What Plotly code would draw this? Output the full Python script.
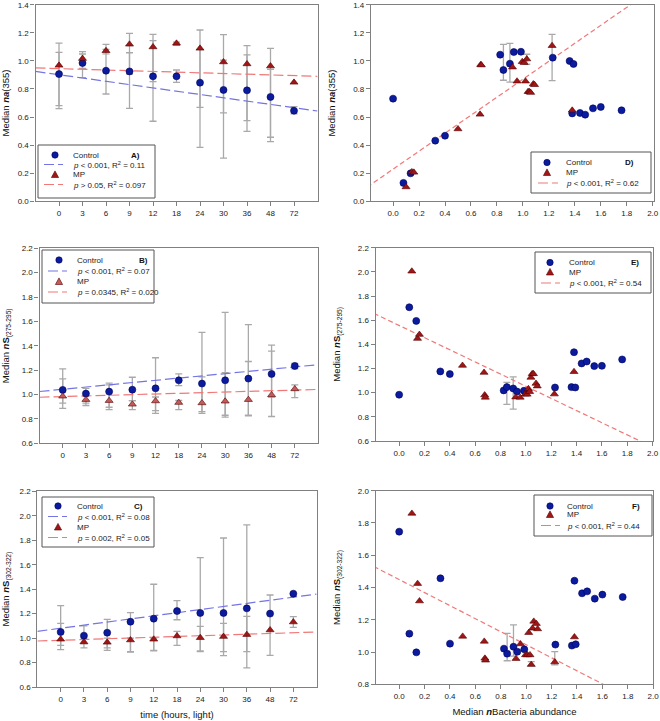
import plotly.graph_objects as go
from plotly.subplots import make_subplots

W, H = 660, 721
FONT = "Arial, 'Liberation Sans', sans-serif"

# ---- time-series panels (A-C) ----
times = ["0", "3", "6", "9", "12", "18", "24", "30", "36", "48", "72"]
tpos = list(range(len(times)))
fit_t = [-1, 11]

a_ctrl = [0.906, 0.985, 0.930, 0.925, 0.890, 0.890, 0.845, 0.793, 0.790, 0.743, 0.645]
a_ctrl_lo = [0.660, 0.880, 0.764, 0.662, 0.570, 0.847, 0.384, 0.308, 0.498, 0.425, 0.622]
a_ctrl_hi = [1.061, 1.049, 1.082, 1.058, 1.144, 0.935, 1.082, 1.006, 1.042, 0.940, 0.674]
a_mp = [0.968, 1.016, 1.072, 1.118, 1.099, 1.125, 1.089, 0.992, 0.978, 0.963, 0.847]
a_mp_lo = [0.681, 0.947, 1.050, 0.906, 0.852, 1.110, 0.669, 0.629, 0.574, 0.456, None]
a_mp_hi = [1.127, 1.066, 1.118, 1.196, 1.189, 1.134, 1.220, 1.187, 1.108, 1.089, None]
a_fit_ctrl = [0.925, 0.643]
a_fit_mp = [0.950, 0.890]

b_ctrl = [1.038, 1.008, 1.024, 1.040, 1.051, 1.117, 1.090, 1.117, 1.131, 1.169, 1.235]
b_ctrl_lo = [0.887, 0.930, 0.896, 0.950, 0.868, 1.074, 0.860, 0.830, 0.830, 0.820, 1.210]
b_ctrl_hi = [1.211, 1.050, 1.093, 1.142, 1.302, 1.170, 1.510, 1.675, 1.573, 1.405, 1.255]
b_mp = [0.986, 0.958, 0.950, 0.920, 0.947, 0.934, 0.931, 0.945, 0.958, 0.997, 1.046]
b_mp_lo = [0.929, 0.910, 0.877, 0.877, 0.846, 0.877, 0.845, 0.815, 0.825, 0.980, 0.975]
b_mp_hi = [1.129, 0.990, 1.080, 0.950, 0.980, 0.951, 1.145, 1.180, 1.271, 1.356, 1.080]
b_fit_ctrl = [1.025, 1.245]
b_fit_mp = [0.978, 1.042]

c_ctrl = [1.050, 1.020, 1.044, 1.134, 1.159, 1.221, 1.205, 1.205, 1.243, 1.200, 1.363]
c_ctrl_lo = [0.905, 0.955, 0.920, 0.890, 0.900, 1.150, 0.895, 0.890, 0.756, 0.858, None]
c_ctrl_hi = [1.265, 1.100, 1.153, 1.208, 1.440, 1.306, 1.658, 1.818, 1.925, 1.352, None]
c_mp = [0.990, 0.968, 0.965, 0.984, 0.990, 1.017, 1.003, 1.012, 1.028, 1.066, 1.131]
c_mp_lo = [0.940, 0.920, 0.900, 0.885, 0.895, 0.940, 0.890, 0.856, 0.890, None, 1.088]
c_mp_hi = [1.120, 1.000, 1.000, 1.000, 1.000, 1.055, 1.096, 1.120, 1.178, None, 1.175]
c_fit_ctrl = [1.055, 1.360]
c_fit_mp = [0.976, 1.050]

# ---- bacteria-abundance panels (D-F) ----
ctrl_bact = [0.0, 0.08, 0.135, 0.325, 0.40, 0.825, 0.85, 0.90, 0.93, 0.985,
             1.23, 1.36, 1.38, 1.39, 1.44, 1.48, 1.54, 1.60, 1.76]
mp_bact = [0.10, 0.145, 0.16, 0.50, 0.67, 0.675, 0.68, 0.92, 0.955, 0.995,
           1.01, 1.02, 1.03, 1.04, 1.05, 1.06, 1.08, 1.09, 1.225, 1.38]

d_ctrl = [0.731, 0.131, 0.199, 0.432, 0.467, 1.044, 0.935, 0.980, 1.063, 1.065,
          1.023, 0.999, 0.626, 0.978, 0.629, 0.617, 0.662, 0.672, 0.648]
d_mp = [0.102, 0.209, 0.206, 0.515, 0.619, 0.973, 0.970, 0.955, 0.855, 0.994,
        0.987, 0.855, 1.013, 0.781, 0.781, 0.774, 0.835, 0.830, 1.108, 0.648]
e_ctrl = [0.983, 1.707, 1.594, 1.176, 1.154, 1.019, 1.046, 1.035, 1.010, 1.016,
          1.043, 1.046, 1.335, 1.043, 1.242, 1.258, 1.220, 1.222, 1.275]
e_mp = [2.005, 1.448, 1.481, 1.225, 1.167, 0.980, 0.961, 0.963, 0.961, 0.986,
        0.986, 1.032, 1.008, 1.126, 1.156, 1.156, 1.076, 1.054, 0.988, 1.173]
f_ctrl = [1.746, 1.114, 0.998, 1.457, 1.052, 1.021, 0.990, 1.033, 1.002, 1.017,
          1.046, 1.040, 1.442, 1.048, 1.364, 1.376, 1.331, 1.356, 1.341]
f_mp = [1.859, 1.424, 1.316, 1.097, 1.066, 0.961, 0.949, 0.959, 1.050, 0.982,
        0.982, 1.120, 0.982, 0.922, 1.147, 1.190, 1.176, 1.143, 0.938, 1.093]

d_bar_x, d_bar_lo, d_bar_hi = [0.85, 0.90, 1.03, 1.225], [0.862, 0.848, 0.976, 0.859], [1.118, 1.125, 1.047, 1.189]
e_bar_x, e_bar_lo, e_bar_hi = [0.85, 0.90], [0.903, 0.864], [1.085, 1.131]
f_bar_x, f_bar_lo, f_bar_hi = [0.85, 0.90, 1.04, 1.225], [0.946, 0.975, 0.915, 0.920], [1.116, 1.168, 0.940, 1.002]

fit_b = [-0.2, 2.02]
d_fit = [0.101, 1.522]
e_fit = [1.657, 0.540]
f_fit = [1.530, 0.633]

BLUE = "#0b1b9e"
RED = "#a01616"
RED_LIGHT = "#c45a5a"
LINE_BLUE = "#7474e4"
LINE_RED = "#f07878"
BAR = "#a9a9a9"
AXIS = "#808080"


def X(px):
    return px / W


def Y(py):
    return 1 - py / H


def add_bars(fig, x, lo, hi, row, col):
    keep = [i for i in range(len(x)) if lo[i] is not None]
    fig.add_trace(
        go.Scatter(
            x=[x[i] for i in keep],
            y=[lo[i] for i in keep],
            mode="markers",
            marker={"size": 1, "color": "rgba(0,0,0,0)"},
            error_y={
                "type": "data",
                "symmetric": False,
                "array": [hi[i] - lo[i] for i in keep],
                "arrayminus": [0] * len(keep),
                "color": BAR,
                "thickness": 1.3,
                "width": 3.5,
            },
            hoverinfo="skip",
        ),
        row=row,
        col=col,
    )


def add_points(fig, x, y, kind, row, col, fill=RED):
    if kind == "circle":
        marker = {"symbol": "circle", "size": 7, "color": BLUE, "line": {"color": "#00005a", "width": 0.6}}
    else:
        marker = {"symbol": "triangle-up", "size": 7, "color": fill, "line": {"color": "#550000", "width": 0.6}}
    fig.add_trace(go.Scatter(x=x, y=y, mode="markers", marker=marker), row=row, col=col)


def add_fit(fig, x, y, color, dash, row, col):
    fig.add_trace(
        go.Scatter(x=x, y=y, mode="lines", line={"color": color, "width": 1.2, "dash": dash}, hoverinfo="skip"),
        row=row,
        col=col,
    )


def add_key(fig, box, rows, sym_x, line_span, text_x, tag, tag_x):
    x0, y0, x1, y1 = box
    fig.add_shape(type="rect", xref="paper", yref="paper", x0=X(x0), x1=X(x1), y0=Y(y1), y1=Y(y0),
                  line={"color": "#555555", "width": 1}, fillcolor="white")
    for kind, color, label, cy in rows:
        if kind == "circle":
            fig.add_shape(type="circle", xref="paper", yref="paper",
                          x0=X(sym_x - 3.2), x1=X(sym_x + 3.2), y0=Y(cy + 3.2), y1=Y(cy - 3.2),
                          fillcolor=color, line={"color": "#00005a", "width": 0.6})
        elif kind == "triangle":
            path = (f"M {X(sym_x - 3.6)} {Y(cy + 3)} L {X(sym_x + 3.6)} {Y(cy + 3)} "
                    f"L {X(sym_x)} {Y(cy - 3.6)} Z")
            fig.add_shape(type="path", xref="paper", yref="paper", path=path,
                          fillcolor=color, line={"color": "#550000", "width": 0.6})
        else:
            fig.add_shape(type="line", xref="paper", yref="paper",
                          x0=X(line_span[0]), x1=X(line_span[1]), y0=Y(cy), y1=Y(cy),
                          line={"color": color, "width": 1.2, "dash": "10px,4px"})
        fig.add_annotation(x=X(text_x), y=Y(cy), xref="paper", yref="paper", text=label,
                           showarrow=False, xanchor="left", yanchor="middle",
                           font={"size": 8, "color": "#222222", "family": FONT})
    fig.add_annotation(x=X(tag_x), y=Y(rows[0][3]), xref="paper", yref="paper", text=f"<b>{tag}</b>",
                       showarrow=False, xanchor="center", yanchor="middle",
                       font={"size": 8, "color": "#111111", "family": FONT})


fig = make_subplots(rows=3, cols=2)

# panel frames in pixels: x0, x1, y0 (top), y1 (bottom)
frames = {
    (1, 1): (35.5, 317.5, 4.7, 201.3),
    (2, 1): (39.5, 318.0, 248.3, 443.3),
    (3, 1): (37.4, 316.6, 491.3, 687.0),
    (1, 2): (371.0, 654.0, 4.7, 201.3),
    (2, 2): (375.7, 652.7, 247.7, 441.0),
    (3, 2): (375.7, 653.3, 490.7, 684.3),
}
for (r, c), (x0, x1, y0, y1) in frames.items():
    fig.update_xaxes(domain=[X(x0), X(x1)], row=r, col=c)
    fig.update_yaxes(domain=[Y(y1), Y(y0)], row=r, col=c)

series = [
    (1, a_ctrl, a_ctrl_lo, a_ctrl_hi, a_mp, a_mp_lo, a_mp_hi, a_fit_ctrl, a_fit_mp, RED),
    (2, b_ctrl, b_ctrl_lo, b_ctrl_hi, b_mp, b_mp_lo, b_mp_hi, b_fit_ctrl, b_fit_mp, RED_LIGHT),
    (3, c_ctrl, c_ctrl_lo, c_ctrl_hi, c_mp, c_mp_lo, c_mp_hi, c_fit_ctrl, c_fit_mp, RED),
]
for row, ctrl, clo, chi, mp, mlo, mhi, fc, fm, mp_fill in series:
    add_bars(fig, tpos, clo, chi, row, 1)
    add_bars(fig, tpos, mlo, mhi, row, 1)
    add_fit(fig, fit_t, fc, LINE_BLUE, "10px,4px", row, 1)
    add_fit(fig, fit_t, fm, LINE_RED, "10px,4px", row, 1)
    add_points(fig, tpos, ctrl, "circle", row, 1)
    add_points(fig, tpos, mp, "triangle", row, 1, fill=mp_fill)

scatter = [
    (1, d_ctrl, d_mp, d_bar_x, d_bar_lo, d_bar_hi, d_fit),
    (2, e_ctrl, e_mp, e_bar_x, e_bar_lo, e_bar_hi, e_fit),
    (3, f_ctrl, f_mp, f_bar_x, f_bar_lo, f_bar_hi, f_fit),
]
for row, ctrl, mp, bx, blo, bhi, fit in scatter:
    add_bars(fig, bx, blo, bhi, row, 2)
    add_fit(fig, fit_b, fit, LINE_RED, "5px,3px", row, 2)
    add_points(fig, ctrl_bact, ctrl, "circle", row, 2)
    add_points(fig, mp_bact, mp, "triangle", row, 2)

axis_style = dict(
    showline=True, mirror=True, linecolor=AXIS, linewidth=1.3,
    ticks="outside", ticklen=4, tickwidth=1, tickcolor=AXIS,
    showgrid=False, zeroline=False, automargin=False,
    tickfont={"size": 8, "color": "#222222", "family": FONT},
    title_font={"size": 9.5, "color": "#111111", "family": FONT},
)
fig.update_xaxes(ticklabeloverflow="allow", **axis_style)
fig.update_yaxes(**axis_style)

for row in (1, 2, 3):
    fig.update_xaxes(range=[-1, 11], tickvals=tpos, ticktext=times, row=row, col=1)
fig.update_xaxes(range=[-0.17, 2.01], dtick=0.2, tick0=0, tickformat=".1f", row=1, col=2)
fig.update_xaxes(range=[-0.185, 2.001], dtick=0.2, tick0=0, tickformat=".1f", row=2, col=2)
fig.update_xaxes(range=[-0.185, 2.001], dtick=0.2, tick0=0, tickformat=".1f", row=3, col=2)
fig.update_xaxes(title_text="time (hours, light)", title_standoff=8, row=3, col=1)
fig.update_xaxes(title_text="Median <b><i>n</i></b>Bacteria abundance", title_standoff=8, row=3, col=2)

na_title = "Median <b><i>na</i></b>(355)"
s1_title = "Median <b><i>n</i>S</b><sub>(275-295)</sub>"
s2_title = "Median <b><i>n</i>S</b><sub>(302-322)</sub>"
for col in (1, 2):
    fig.update_yaxes(range=[0, 1.4], dtick=0.2, tick0=0, tickformat=".1f", title_text=na_title, row=1, col=col)
    fig.update_yaxes(range=[0.6, 2.2], dtick=0.2, tick0=0.6, tickformat=".1f", title_text=s1_title, row=2, col=col)
fig.update_yaxes(range=[0.6, 2.2], dtick=0.2, tick0=0.6, tickformat=".1f", title_text=s2_title, row=3, col=1)
fig.update_yaxes(range=[0.8, 2.0], dtick=0.2, tick0=0.8, tickformat=".1f", title_text=s2_title, row=3, col=2)

p_lt = "<i>p</i> < 0.001, R<sup>2</sup> = "
add_key(fig, (38, 145, 155, 198), [
    ("circle", BLUE, "Control", 155),
    ("line", LINE_BLUE, p_lt + "0.11", 164.5),
    ("triangle", RED, "MP", 174.5),
    ("line", LINE_RED, "<i>p</i> > 0.05, R<sup>2</sup> = 0.097", 184.5),
], 55, (44, 63), 71, "A)", 135)
add_key(fig, (42, 250, 154, 303), [
    ("circle", BLUE, "Control", 260),
    ("line", LINE_BLUE, p_lt + "0.07", 271),
    ("triangle", RED_LIGHT, "MP", 281.5),
    ("line", LINE_RED, "<i>p</i> = 0.0345, R<sup>2</sup> = 0.020", 292),
], 59, (48, 67), 75, "B)", 143)
add_key(fig, (42, 497, 154, 547), [
    ("circle", BLUE, "Control", 506),
    ("line", LINE_BLUE, p_lt + "0.08", 516.5),
    ("triangle", RED, "MP", 527),
    ("line", LINE_RED, "<i>p</i> = 0.002, R<sup>2</sup> = 0.05", 537.5),
], 58, (48, 67), 75, "C)", 138)
add_key(fig, (531, 152, 651, 193), [
    ("circle", BLUE, "Control", 162.5),
    ("triangle", RED, "MP", 172.5),
    ("line", LINE_RED, p_lt + "0.62", 183),
], 547, (538, 558), 564, "D)", 629)
add_key(fig, (535, 252, 651, 293), [
    ("circle", BLUE, "Control", 262.5),
    ("triangle", RED, "MP", 272),
    ("line", LINE_RED, p_lt + "0.54", 283),
], 550, (541, 560), 567, "E)", 635)
add_key(fig, (534, 495, 652, 536), [
    ("circle", BLUE, "Control", 506),
    ("triangle", RED, "MP", 514.5),
    ("line", LINE_RED, p_lt + "0.44", 525.5),
], 550, (541, 560), 565, "F)", 636)

fig.update_layout(
    width=W,
    height=H,
    margin={"l": 0, "r": 0, "t": 0, "b": 0},
    showlegend=False,
    plot_bgcolor="white",
    paper_bgcolor="white",
    font={"family": FONT, "color": "#222222"},
)
# the page body has a default 8px margin; drop it so the figure fills the window
fig.write_html(
    "out.html",
    config={"displayModeBar": False},
    post_script="document.body.style.margin='0';document.body.style.overflow='hidden';",
)
